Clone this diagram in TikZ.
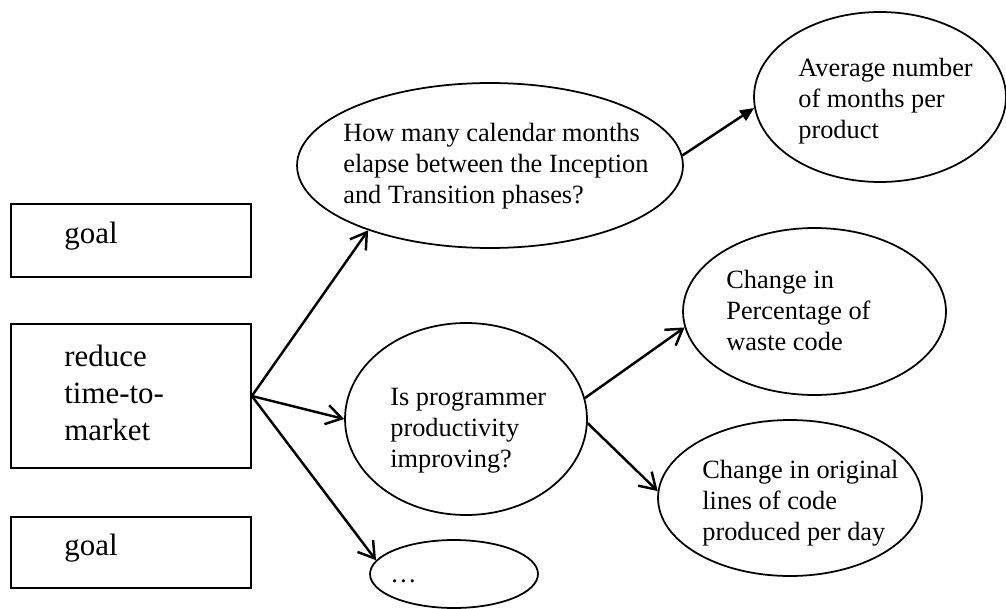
\documentclass[tikz,border=0pt]{standalone}
\usepackage{fontspec}
\setmainfont{Liberation Serif}
\usetikzlibrary{shapes.geometric,arrows.meta}

\begin{document}
\begin{tikzpicture}[x=0.02cm,y=-0.02cm,
    goalbox/.style={draw,line width=1pt,minimum width=4.8cm,inner sep=0pt},
    oval/.style={draw,ellipse,line width=1pt,inner sep=0pt},
    txt/.style={align=left,inner sep=0pt,font=\fontsize{15}{17.6}\selectfont},
    goaltxt/.style={align=left,inner sep=0pt,font=\fontsize{17.6}{21}\selectfont},
    link/.style={line width=1.4pt,-{Straight Barb[length=0.31cm,width=0.39cm]}},
    solidlink/.style={line width=1.4pt,-{Triangle[length=0.28cm,width=0.24cm]}}]
  \useasboundingbox (0,0) rectangle (1006,608);

  \node[goalbox,minimum height=1.46cm] (goal1) at (131,240.5) {};
  \node[goalbox,minimum height=2.88cm] (goal2) at (131,396) {};
  \node[goalbox,minimum height=1.42cm] (goal3) at (131,552.5) {};
  \node[goaltxt,anchor=base west] (goal1txt) at (64,243) {goal};
  \node[goaltxt,anchor=west] (goal2txt) at (64,393) {reduce\\time-to-\\market};
  \node[goaltxt,anchor=base west] (goal3txt) at (64,555) {goal};

  \node[oval,minimum width=7.72cm,minimum height=3.3cm] (q1) at (490,165.5) {};
  \node[oval,minimum width=4.84cm,minimum height=3.84cm] (q2) at (466,419) {};
  \node[oval,minimum width=3.36cm,minimum height=1.36cm] (q3) at (454,574) {};
  \node[txt,anchor=west] (q1txt) at (343,166.5)
    {How many calendar months\\elapse between the Inception\\and Transition phases?};
  \node[txt,anchor=west] (q2txt) at (390,431) {Is programmer\\productivity\\improving?};
  \node[txt,anchor=base west] (q3txt) at (390,582) {\ldots};

  \node[oval,minimum width=5.04cm,minimum height=3.4cm] (m1) at (880,97) {};
  \node[oval,minimum width=5.26cm,minimum height=3.34cm] (m2) at (814.5,311.5) {};
  \node[oval,minimum width=5.28cm,minimum height=3.12cm] (m3) at (790,498) {};
  \node[txt,anchor=west] (m1txt) at (798,101) {Average number\\of months per\\product};
  \node[txt,anchor=west] (m2txt) at (726,310.5) {Change in\\Percentage of\\waste code};
  \node[txt,anchor=west] (m3txt) at (702,503) {Change in original\\lines of code\\produced per day};

  \draw[link] (goal2.east) -- (q1.208);
  \draw[link] (goal2.east) -- (q2.west);
  \draw[link] (goal2.east) -- (q3.170);
  \draw[solidlink] (q1.3) -- (m1.185);
  \draw[link] (q2.10) -- (m2.187);
  \draw[link] (q2.358) -- (m3.177);
\end{tikzpicture}
\end{document}
